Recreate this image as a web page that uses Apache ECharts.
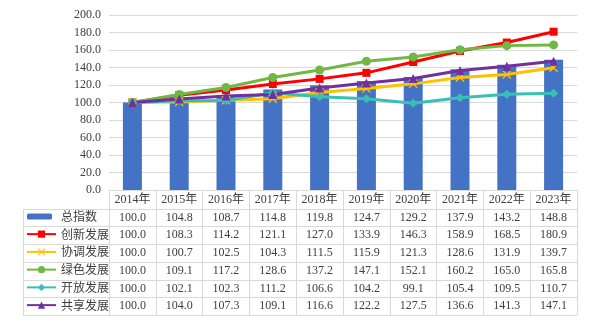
<!DOCTYPE html>
<html>
<head>
<meta charset="utf-8">
<script src="https://cdn.jsdelivr.net/npm/echarts@6/dist/echarts.min.js"></script>
<style>
  html, body { margin: 0; padding: 0; background: #fff; }
  #chart { width: 591px; height: 332px; }
</style>
</head>
<body>
<div id="chart"></div>
<script>
// Categories and index values (2014 = 100)
const years = ['2014年', '2015年', '2016年', '2017年', '2018年', '2019年', '2020年', '2021年', '2022年', '2023年'];
const totalIndex   = [100.0, 104.8, 108.7, 114.8, 119.8, 124.7, 129.2, 137.9, 143.2, 148.8];
const innovation   = [100.0, 108.3, 114.2, 121.1, 127.0, 133.9, 146.3, 158.9, 168.5, 180.9];
const coordination = [100.0, 100.7, 102.5, 104.3, 111.5, 115.9, 121.3, 128.6, 131.9, 139.7];
const green        = [100.0, 109.1, 117.2, 128.6, 137.2, 147.1, 152.1, 160.2, 165.0, 165.8];
const openness     = [100.0, 102.1, 102.3, 111.2, 106.6, 104.2, 99.1, 105.4, 109.5, 110.7];
const sharing      = [100.0, 104.0, 107.3, 109.1, 116.6, 122.2, 127.5, 136.6, 141.3, 147.1];
const yTicks = { min: 0, max: 200, interval: 20 };

const seriesDefs = [
  { name: '总指数',   type: 'bar',  data: totalIndex,   color: '#4472C4' },
  { name: '创新发展', type: 'line', data: innovation,   color: '#FF0000', symbol: 'rect', size: 8 },
  { name: '协调发展', type: 'line', data: coordination, color: '#FFC000',
    symbol: 'path://M0,1 L1,0 L5,4 L9,0 L10,1 L6,5 L10,9 L9,10 L5,6 L1,10 L0,9 L4,5 Z', size: 9 },
  { name: '绿色发展', type: 'line', data: green,        color: '#70B744', symbol: 'circle', size: 9 },
  { name: '开放发展', type: 'line', data: openness,     color: '#38C0B4', symbol: 'diamond', size: 9 },
  { name: '共享发展', type: 'line', data: sharing,      color: '#7030A0', symbol: 'triangle', size: 9 }
];

// Layout of plot and data table
const plotLeft = 109, plotRight = 577, plotTop = 15, plotBottom = 190;
const headerH = 18.5;
const rowH = 17.75;
const tableBottom = plotBottom + headerH + rowH * seriesDefs.length;
const legendLeft = 23;
const lineColor = '#D9D9D9';
const textColor = '#404040';
const numFont = "'Liberation Serif', 'Noto Sans CJK SC', serif";
const cjkFont = "'Noto Sans CJK SC', sans-serif";

const chart = echarts.init(document.getElementById('chart'));

const series = seriesDefs.map(d => {
  if (d.type === 'bar') {
    return { name: d.name, type: 'bar', data: d.data, barWidth: 19,
      itemStyle: { color: d.color }, z: 1 };
  }
  return { name: d.name, type: 'line', data: d.data, symbol: d.symbol, symbolSize: d.size,
    showAllSymbol: true,
    lineStyle: { color: d.color, width: 3 }, itemStyle: { color: d.color }, z: 2 };
});

// One legend per table row so each key sits in its own cell
const legends = seriesDefs.map((d, i) => ({
  data: [d.name],
  left: d.type === 'bar' ? legendLeft + 4 : legendLeft + 3,
  top: plotBottom + headerH + rowH * i + rowH / 2 - 7,
  itemWidth: d.type === 'bar' ? 25 : 29,
  itemHeight: d.type === 'bar' ? 6 : 9,
  itemGap: 0,
  padding: 0,
  selectedMode: false,
  textStyle: { fontFamily: cjkFont, fontSize: 12, color: textColor, padding: [0, 0, 0, d.type === 'bar' ? 4 : 0] }
}));

chart.setOption({
  animation: false,
  backgroundColor: '#fff',
  grid: { left: plotLeft, right: 591 - plotRight, top: plotTop, bottom: 332 - plotBottom },
  legend: legends,
  xAxis: {
    type: 'category',
    data: years,
    boundaryGap: true,
    axisLine: { show: true, lineStyle: { color: lineColor, width: 1 } },
    axisTick: { show: true, interval: 0, length: tableBottom - plotBottom, lineStyle: { color: lineColor, width: 1 } },
    axisLabel: { interval: 0, margin: 4, fontFamily: numFont, fontSize: 12, color: textColor }
  },
  yAxis: {
    type: 'value',
    min: yTicks.min, max: yTicks.max, interval: yTicks.interval,
    axisLine: { show: false },
    axisTick: { show: false },
    splitLine: { lineStyle: { color: lineColor, width: 1 } },
    axisLabel: { margin: 8, fontFamily: numFont, fontSize: 12, color: textColor,
      formatter: v => v.toFixed(1) }
  },
  series: series
});

// Data table: borders and value cells positioned from the category axis
const graphics = [];
const lineSeg = (x1, y1, x2, y2) => ({
  type: 'line', silent: true,
  shape: { x1, y1, x2, y2 },
  style: { stroke: lineColor, lineWidth: 1 }
});
for (let r = 0; r <= seriesDefs.length; r++) {
  const y = Math.round(plotBottom + headerH + rowH * r) + 0.5;
  graphics.push(lineSeg(legendLeft, y, plotRight, y));
}
graphics.push(lineSeg(legendLeft + 0.5, Math.round(plotBottom + headerH) + 0.5, legendLeft + 0.5, Math.round(tableBottom) + 0.5));
seriesDefs.forEach((d, r) => {
  const yc = plotBottom + headerH + rowH * r + rowH / 2;
  d.data.forEach((v, i) => {
    const xc = chart.convertToPixel({ xAxisIndex: 0 }, i);
    graphics.push({
      type: 'text', silent: true, x: xc, y: yc,
      style: { text: v.toFixed(1), fontFamily: numFont, fontSize: 12, fill: textColor,
        align: 'center', verticalAlign: 'middle' }
    });
  });
});
chart.setOption({ graphic: graphics });
</script>
</body>
</html>
